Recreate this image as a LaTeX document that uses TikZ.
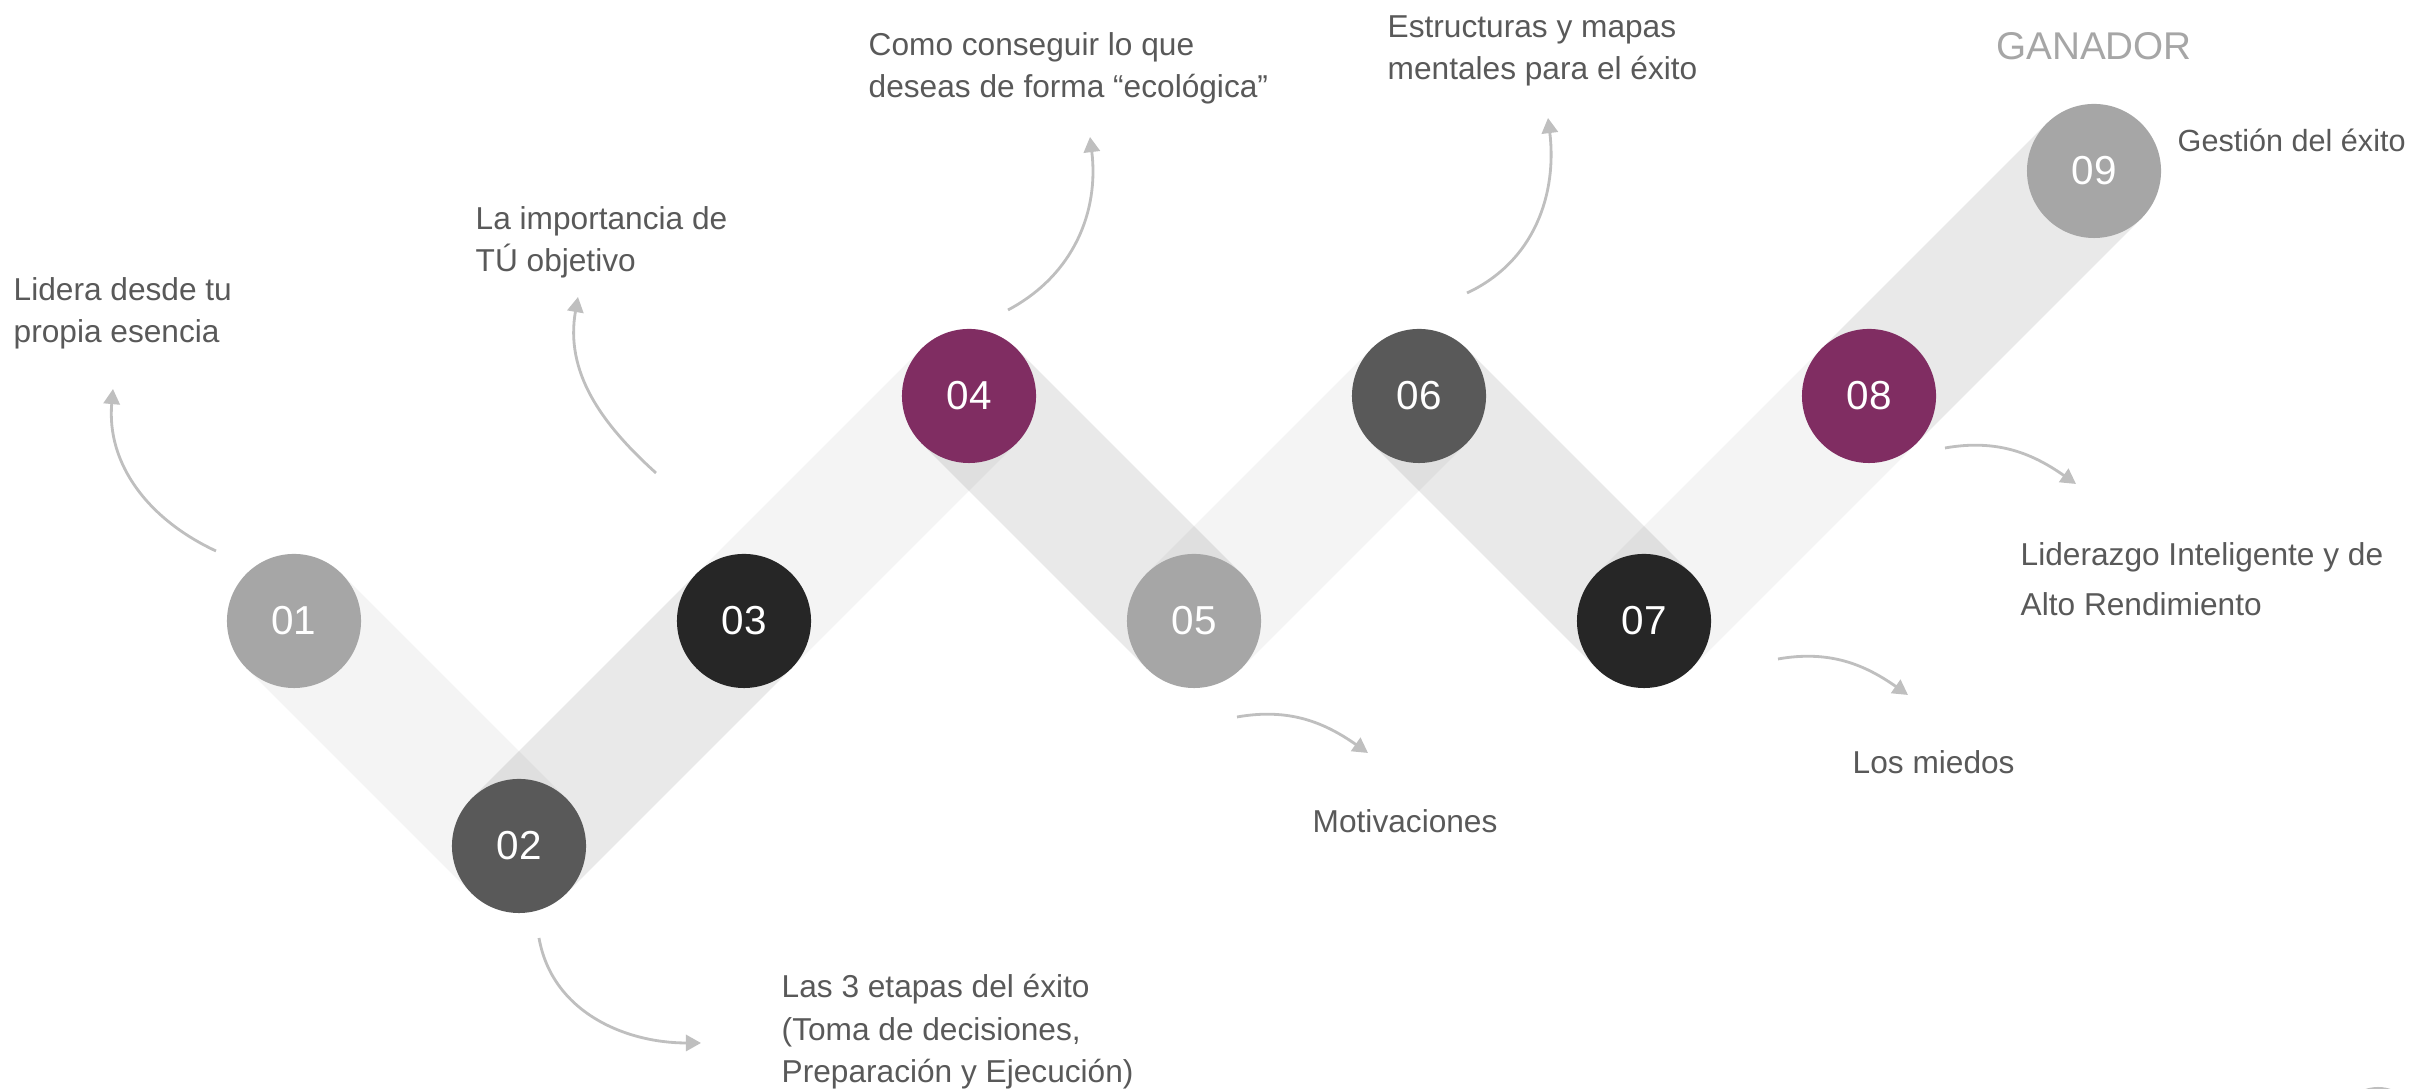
\documentclass[tikz,border=0pt]{standalone}
\usepackage{fontspec}
\setmainfont{Liberation Sans}
\usetikzlibrary{arrows.meta}
\definecolor{stepsilver}{HTML}{A6A6A6}
\definecolor{stepslate}{HTML}{595959}
\definecolor{stepcoal}{HTML}{262626}
\definecolor{stepplum}{RGB}{128,45,98}
\definecolor{notegray}{HTML}{595959}
\definecolor{hookgray}{HTML}{BFBFBF}

\begin{document}
\begin{tikzpicture}[x=0.01cm, y=0.01cm,
    disc/.style={circle, minimum size=1.34cm, inner sep=0pt, text=white,
        font=\fontsize{11.5}{13}\selectfont},
    bandlight/.style={line width=1.34cm, draw=black, draw opacity=0.043},
    banddark/.style={line width=1.34cm, draw=black, draw opacity=0.086},
    note/.style={anchor=north west, align=left, inner sep=0pt, text=notegray,
        font=\fontsize{9}{12}\selectfont},
    hook/.style={draw=hookgray, line width=0.8pt,
        -{Triangle[length=4.3pt, width=4.6pt]}}]
\useasboundingbox (0, 0) rectangle (2427, 1089);
\begin{scope}
\clip (0, 0) rectangle (2427, 1089);

% centres of the steps
\coordinate (p01) at (294, 468);
\coordinate (p02) at (519, 243);
\coordinate (p03) at (744, 468);
\coordinate (p04) at (969, 693);
\coordinate (p05) at (1194, 468);
\coordinate (p06) at (1419, 693);
\coordinate (p07) at (1644, 468);
\coordinate (p08) at (1869, 693);
\coordinate (p09) at (2094, 918);

% shadow bands
\draw [bandlight] (p01) -- (p02);
\draw [banddark] (p02) -- (p03);
\draw [bandlight] (p03) -- (p04);
\draw [banddark] (p04) -- (p05);
\draw [bandlight] (p05) -- (p06);
\draw [banddark] (p06) -- (p07);
\draw [bandlight] (p07) -- (p08);
\draw [banddark] (p08) -- (p09);

% steps
\node [disc, fill = stepsilver] (c01) at (p01) {01};
\node [disc, fill = stepslate] (c02) at (p02) {02};
\node [disc, fill = stepcoal] (c03) at (p03) {03};
\node [disc, fill = stepplum] (c04) at (p04) {04};
\node [disc, fill = stepsilver] (c05) at (p05) {05};
\node [disc, fill = stepslate] (c06) at (p06) {06};
\node [disc, fill = stepcoal] (c07) at (p07) {07};
\node [disc, fill = stepplum] (c08) at (p08) {08};
\node [disc, fill = stepsilver] (c09) at (p09) {09};

% texts
\node [note] (t01) at (13, 812) {Lidera desde tu\\propia esencia};
\node [note] (t02) at (781, 115) {Las 3 etapas del éxito\\(Toma de decisiones,\\Preparación y Ejecución)};
\node [note] (t03) at (475, 883) {La importancia de\\TÚ objetivo};
\node [note] (t04) at (868, 1057) {Como conseguir lo que\\deseas de forma “ecológica”};
\node [note] (t05) at (1312, 280) {Motivaciones};
\node [note] (t06) at (1387, 1074) {Estructuras y mapas\\mentales para el éxito};
\node [note] (t07) at (1852, 339) {Los miedos};
\node [note, font = \fontsize{9}{14.2}\selectfont] (t08) at (2020, 547)
    {Liderazgo Inteligente y de\\Alto Rendimiento};
\node [note, font = \fontsize{8.7}{12}\selectfont] (t09) at (2177, 961) {Gestión del éxito};
\node [text = stepsilver, font = \fontsize{11}{13}\selectfont, inner sep = 0pt]
    (win) at (2094, 1043) {GANADOR};

% curved pointers
\coordinate (a1s) at (216, 538);
\coordinate (a1e) at (113, 700);
\coordinate (a2s) at (539, 151);
\coordinate (a2e) at (701, 46);
\coordinate (a3s) at (656, 616);
\coordinate (a3e) at (578, 792);
\coordinate (a4s) at (1008, 779);
\coordinate (a4e) at (1090, 952);
\coordinate (a5s) at (1237, 372);
\coordinate (a5e) at (1368, 336);
\coordinate (a6s) at (1467, 796);
\coordinate (a6e) at (1548, 971);
\coordinate (a7s) at (1778, 430);
\coordinate (a7e) at (1908, 394);
\coordinate (a8s) at (1945, 641);
\coordinate (a8e) at (2076, 605);
\draw [hook] (a1s) to [out = 155, in = -95] (a1e);
\draw [hook] (a2s) to [out = -80, in = 180] (a2e);
\draw [hook] (a3s) to [out = 138, in = -100] (a3e);
\draw [hook] (a4s) to [out = 28, in = -83] (a4e);
\draw [hook] (a5s) to [out = 10, in = 145] (a5e);
\draw [hook] (a6s) to [out = 25, in = -83] (a6e);
\draw [hook] (a7s) to [out = 10, in = 145] (a7e);
\draw [hook] (a8s) to [out = 10, in = 145] (a8e);

% cut-off mark in the corner
\fill [hookgray] (2378, -38) circle (40);
\end{scope}
\end{tikzpicture}
\end{document}
